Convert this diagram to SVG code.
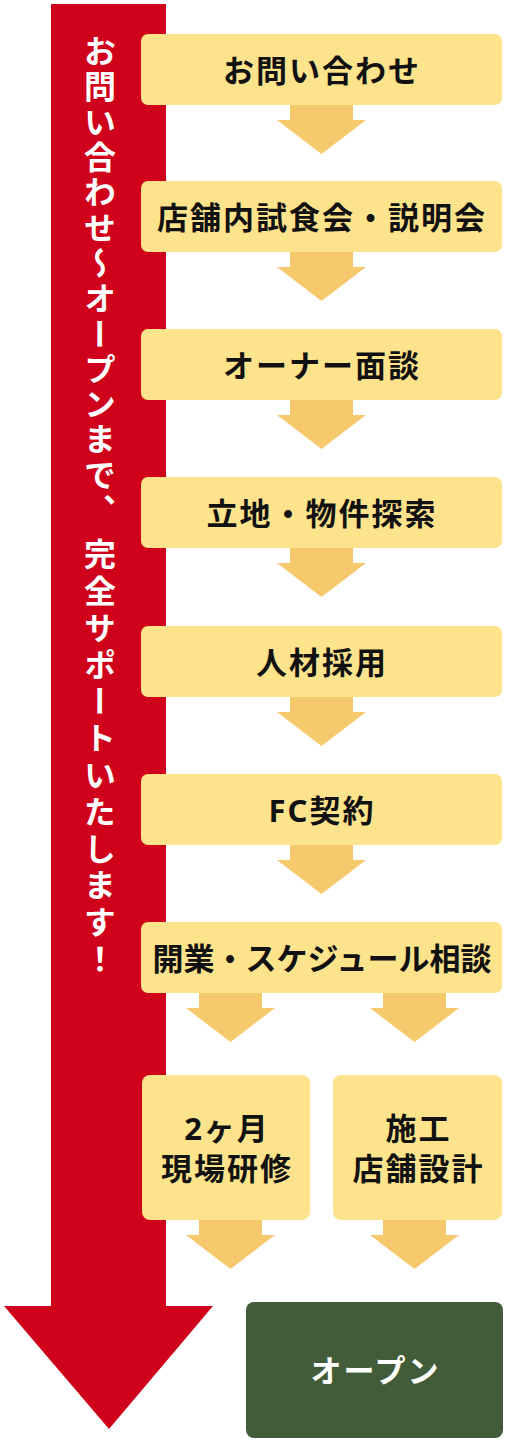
<svg xmlns="http://www.w3.org/2000/svg" width="508" height="1444" viewBox="0 0 508 1444">
<style>
.box{fill:#FDE38C;}
.arr{fill:#F7C96D;}
.t{font-family:"Noto Sans","Noto Sans CJK JP",sans-serif;font-weight:700;font-size:31px;fill:#111;text-anchor:middle;dominant-baseline:central;letter-spacing:2px;}
.v{font-family:"Noto Sans CJK JP",sans-serif;font-weight:700;font-size:32px;fill:#fff;writing-mode:vertical-rl;text-orientation:upright;}
</style>
<defs>
<path id="a1" d="M-31.5,0 H31.5 V15 H44.5 L0,49 L-44.5,15 H-31.5 Z"/>
</defs>
<g id="support-arrow">
<path d="M51,4 H166 V1306 H213 L109,1429 L4,1306 H51 Z" fill="#D0011B"/>
<text class="v" x="100" y="35" style="letter-spacing:3.3px">お問い合わせ～オープンまで、</text>
<text class="v" x="100" y="538" style="letter-spacing:4.8px">完全サポートいたします！</text>
</g>
<g id="connectors">
<use href="#a1" class="arr" x="321.5" y="105"/>
<use href="#a1" class="arr" x="321.5" y="252"/>
<use href="#a1" class="arr" x="321.5" y="400"/>
<use href="#a1" class="arr" x="321.5" y="548"/>
<use href="#a1" class="arr" x="321.5" y="697"/>
<use href="#a1" class="arr" x="321.5" y="845"/>
<use href="#a1" class="arr" x="230.5" y="993"/>
<use href="#a1" class="arr" x="414.5" y="993"/>
<use href="#a1" class="arr" x="230.5" y="1220"/>
<use href="#a1" class="arr" x="414.5" y="1220"/>
</g>
<g id="n1"><rect class="box" x="141" y="34" width="361" height="71" rx="7"/><text class="t" x="322" y="70">お問い合わせ</text></g>
<g id="n2"><rect class="box" x="141" y="181" width="361" height="71" rx="7"/><text class="t" x="322" y="217">店舗内試食会・説明会</text></g>
<g id="n3"><rect class="box" x="141" y="329" width="361" height="71" rx="7"/><text class="t" x="322" y="365">オーナー面談</text></g>
<g id="n4"><rect class="box" x="141" y="477" width="361" height="71" rx="7"/><text class="t" x="322" y="513">立地・物件探索</text></g>
<g id="n5"><rect class="box" x="141" y="626" width="361" height="71" rx="7"/><text class="t" x="322" y="662">人材採用</text></g>
<g id="n6"><rect class="box" x="141" y="774" width="361" height="71" rx="7"/><text class="t" x="322" y="810">FC契約</text></g>
<g id="n7"><rect class="box" x="141" y="922" width="361" height="71" rx="7"/><text class="t" x="322" y="958" style="letter-spacing:0">開業・スケジュール相談</text></g>
<g id="n8"><rect class="box" x="142" y="1075" width="168" height="145" rx="8"/><text class="t" x="227" y="1128">2ヶ月</text><text class="t" x="227" y="1168">現場研修</text></g>
<g id="n9"><rect class="box" x="333" y="1075" width="169" height="145" rx="8"/><text class="t" x="418.5" y="1128">施工</text><text class="t" x="418.5" y="1168">店舗設計</text></g>
<g id="n10"><rect x="246" y="1302" width="257" height="136" rx="8" fill="#425C3A"/><text class="t" x="375.5" y="1370" style="fill:#fff">オープン</text></g>
</svg>
